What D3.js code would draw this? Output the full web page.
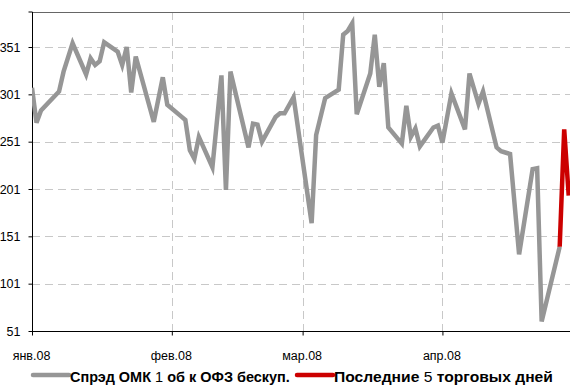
<!DOCTYPE html>
<html><head><meta charset="utf-8">
<script src="https://cdn.jsdelivr.net/npm/d3@7"></script>
<style>
body{margin:0;background:#fff;}
svg{display:block;}
text{font-family:"Liberation Sans Narrow","Arial Narrow","Liberation Sans",Arial,sans-serif;}
</style></head>
<body>
<svg id="c" width="570" height="385"></svg>
<script>
// Spread series (trading days)
const spreadDates = ["2008-01-01","2008-01-02","2008-01-03","2008-01-07","2008-01-08","2008-01-10","2008-01-13","2008-01-14","2008-01-15","2008-01-16","2008-01-17","2008-01-20","2008-01-21","2008-01-22","2008-01-23","2008-01-24","2008-01-28","2008-01-30","2008-01-31","2008-02-03","2008-02-04","2008-02-05","2008-02-06","2008-02-07","2008-02-10","2008-02-12","2008-02-13","2008-02-14","2008-02-18","2008-02-19","2008-02-20","2008-02-21","2008-02-24","2008-02-25","2008-02-26","2008-02-28","2008-03-03","2008-03-04","2008-03-06","2008-03-09","2008-03-10","2008-03-11","2008-03-12","2008-03-13","2008-03-16","2008-03-17","2008-03-18","2008-03-19","2008-03-20","2008-03-23","2008-03-24","2008-03-25","2008-03-26","2008-03-27","2008-03-30","2008-03-31","2008-04-01","2008-04-03","2008-04-06","2008-04-07","2008-04-09","2008-04-10","2008-04-13","2008-04-14","2008-04-16","2008-04-18","2008-04-21","2008-04-22","2008-04-23","2008-04-27"];
const spreadValues = [308,271,284,304,325,355,322,339,332,336,356,346,332,351,303,341,272,319,290,278,274,242,233,256,224,321,200,325,245,270,269,251,277,281,281,298,165,258,297,306,364,368,376,280,323,364,309,334,266,249,289,256,265,246,266,268,250,302,264,323,291,304,245,241,238,132,222,223,61,140];
// Last 5 trading days
const lastDates = ["2008-04-27","2008-04-28","2008-04-29"];
const lastValues = [140,264,194];
const yTicks = [51,101,151,201,251,301,351];
const monthTicks = ["2008-01-01","2008-02-01","2008-03-01","2008-04-01"];
const monthLabels = ["янв.08","фев.08","мар.08","апр.08"];
const legendLabels = [["Спрэд ОМК ","1"," об к ОФЗ бескуп."],["Последние ","5"," торговых дней"]];

const parse = d3.utcParse("%Y-%m-%d");
const svg = d3.select("#c");
const L = 32, T = 12, B = 331, R = 570;
const dayPx = 141/31;
const x = d3.scaleUtc().domain([parse("2008-01-01"), parse("2008-04-29")]).range([L, L + 118*dayPx]);
const y = d3.scaleLinear().domain([51, 388]).range([B, T]);

svg.append("clipPath").attr("id","clip").append("rect").attr("x",L).attr("y",0).attr("width",R-L).attr("height",B);

// grid
const grid = svg.append("g");
grid.selectAll("line.h").data(yTicks.slice(1)).join("line")
  .attr("x1",L).attr("x2",R).attr("y1",d=>Math.round(y(d))+0.5).attr("y2",d=>Math.round(y(d))+0.5)
  .attr("stroke","#c8c8c8").attr("stroke-dasharray","8,5");
grid.selectAll("line.v").data(monthTicks.slice(1)).join("line")
  .attr("x1",d=>Math.round(x(parse(d)))+0.5).attr("x2",d=>Math.round(x(parse(d)))+0.5).attr("y1",T).attr("y2",B)
  .attr("stroke","#c8c8c8").attr("stroke-dasharray","8,5");

// top border
svg.append("line").attr("x1",L).attr("x2",R).attr("y1",T+0.5).attr("y2",T+0.5).attr("stroke","#666");

// axes
const yAxis = svg.append("g").attr("transform",`translate(${L+0.5},0)`)
  .call(d3.axisLeft(y).tickValues(yTicks).tickSize(4).tickPadding(8).tickFormat(d3.format("d")));
yAxis.select(".domain").attr("d",`M-4,${T}H0V${B+0.5}`).attr("stroke","#000");
yAxis.selectAll("text").attr("font-size",12.5).attr("fill","#000");

const xAxis = svg.append("g").attr("transform",`translate(0,${B+0.5})`)
  .call(d3.axisBottom(x).tickValues(monthTicks.map(parse)).tickSize(4).tickPadding(16)
    .tickFormat((d,i)=>monthLabels[i]));
xAxis.select(".domain").attr("d",`M${L},0H${R}`).attr("stroke","#000");
xAxis.selectAll("text").attr("font-size",12.5).attr("fill","#000").attr("dx",-1);

// lines
const line = d3.line().x(d=>x(d[0])).y(d=>y(d[1]));
const plot = svg.append("g").attr("clip-path","url(#clip)");
plot.append("path").datum(spreadDates.map((d,i)=>[parse(d),spreadValues[i]]))
  .attr("d",line).attr("fill","none").attr("stroke","#969696").attr("stroke-width",4.5);
plot.append("path").datum(lastDates.map((d,i)=>[parse(d),lastValues[i]]))
  .attr("d",line).attr("fill","none").attr("stroke","#cc0000").attr("stroke-width",4.5);

// legend
const leg = [{c:"#969696",x1:33,x2:69,tx:70,w:220},{c:"#cc0000",x1:297,x2:333,tx:334,w:219}];
leg.forEach((l,i)=>{
  svg.append("line").attr("x1",l.x1).attr("x2",l.x2).attr("y1",375).attr("y2",375)
    .attr("stroke",l.c).attr("stroke-width",4.5).attr("stroke-linecap","round");
  const g = svg.append("g");
  let cx = 0;
  legendLabels[i].forEach((s,j)=>{
    const t = g.append("text").attr("x",cx).attr("y",0).attr("font-size",15).attr("fill","#000")
      .attr("font-weight", j===1 ? "normal" : "bold").style("white-space","pre").attr("xml:space","preserve").text(s);
    cx += t.node().getComputedTextLength();
  });
  const sx = l.w / cx;
  g.attr("transform",`translate(${l.tx},382) scale(${sx},1)`);
});
</script>
</body></html>
